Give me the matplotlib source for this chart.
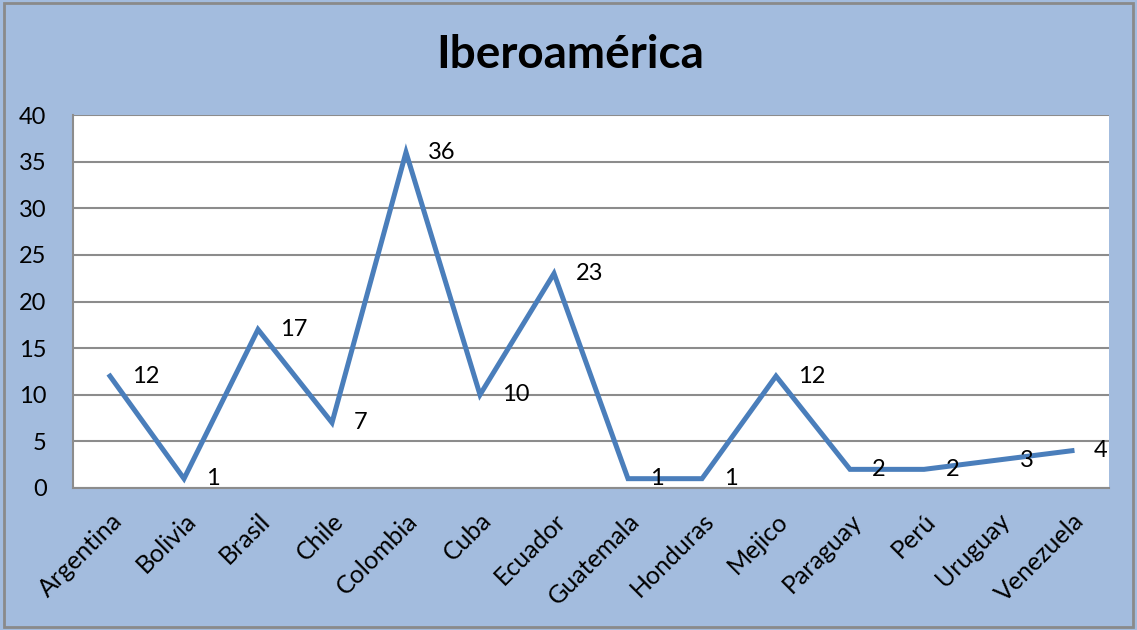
import matplotlib
matplotlib.use('Agg')
import numpy as np
from matplotlib import pyplot as plt
from matplotlib.patches import Rectangle

plt.rcParams['font.family'] = ['Lato', 'DejaVu Sans']

###################
# Data
paises = ['Argentina', 'Bolivia', 'Brasil', 'Chile', 'Colombia', 'Cuba', 'Ecuador',
          'Guatemala', 'Honduras', 'Mejico', 'Paraguay', 'Perú', 'Uruguay', 'Venezuela']
valores = [12, 1, 17, 7, 36, 10, 23, 1, 1, 12, 2, 2, 3, 4]
yticks = [0, 5, 10, 15, 20, 25, 30, 35, 40]

bg = '#A3BCDE'
line_col = '#4A7EBB'
grid_col = '#8C8C8C'

###################
fig = plt.figure(figsize=(11.37, 6.30), dpi=100, facecolor=bg)
ax = fig.add_axes([73/1137, 1 - 488/630, (1109-73)/1137, (488-115)/630])
ax.set_facecolor('white')

x = np.arange(len(paises))
ax.plot(x, valores, color=line_col, lw=3.6, solid_joinstyle='miter', zorder=3)

for xi, v in zip(x, valores):
    ax.annotate(str(v), (xi, v), xytext=(16, 0), textcoords='offset points',
                fontsize=17, va='center', ha='left', color='black', zorder=4)

ax.set_xlim(-0.5, len(paises) - 0.5)
ax.set_ylim(0, 40)
ax.set_yticks(yticks)
ax.set_yticklabels([str(t) for t in yticks], fontsize=17)
ax.set_xticks(x)
ax.set_xticklabels(paises, fontsize=18, rotation=45, ha='right', rotation_mode='anchor')
ax.tick_params(axis='y', length=0, pad=19)
ax.tick_params(axis='x', length=0, pad=15)
ax.yaxis.grid(True, color=grid_col, lw=1.5)
ax.set_axisbelow(True)

for s in ['top', 'right']:
    ax.spines[s].set_visible(False)
for s in ['left', 'bottom']:
    ax.spines[s].set_color(grid_col)
    ax.spines[s].set_linewidth(1.5)

fig.text(570/1137, 1 - 55/630, 'Iberoamérica', fontsize=33, fontweight='bold',
         ha='center', va='center')

# outer border
fig.patches.append(Rectangle((4/1137, 3/630), 1 - 8/1137, 1 - 6/630, transform=fig.transFigure,
                             fill=False, edgecolor='#8A8A8A', lw=2))

fig.savefig('out.png', dpi=100, facecolor=bg)
